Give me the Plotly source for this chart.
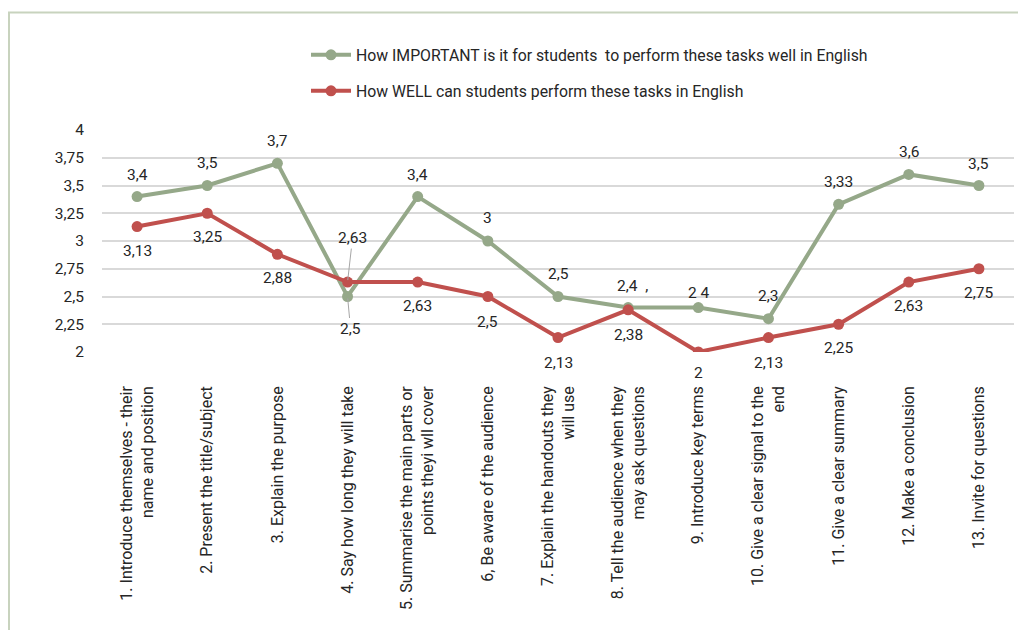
import plotly.graph_objects as go

categories = [
    "1. Introduce themselves - their<br>name and position",
    "2. Present the title/subject",
    "3. Explain the purpose",
    "4. Say how long they will take",
    "5. Summarise the main parts or<br>points theyi wll cover",
    "6, Be aware of the audience",
    "7. Explain the handouts they<br>will use",
    "8. Tell the audience when they<br>may ask questions",
    "9. Introduce key terms",
    "10. Give a clear signal to the<br>end",
    "11. Give a clear summary",
    "12. Make a conclusion",
    "13. Invite for questions",
]
important = [3.4, 3.5, 3.7, 2.5, 3.4, 3.0, 2.5, 2.4, 2.4, 2.3, 3.33, 3.6, 3.5]
well = [3.13, 3.25, 2.88, 2.63, 2.63, 2.5, 2.13, 2.38, 2.0, 2.13, 2.25, 2.63, 2.75]
important_labels = ["3,4", "3,5", "3,7", "2,5", "3,4", "3", "2,5", "2,4  ,", "2 4", "2,3", "3,33", "3,6", "3,5"]
well_labels = ["3,13", "3,25", "2,88", "2,63", "2,63", "2,5", "2,13", "2,38", "2", "2,13", "2,25", "2,63", "2,75"]
ytick_vals = [2, 2.25, 2.5, 2.75, 3, 3.25, 3.5, 3.75, 4]
ytick_text = ["2", "2,25", "2,5", "2,75", "3", "3,25", "3,5", "3,75", "4"]
name_important = "How IMPORTANT is it for students  to perform these tasks well in English"
name_well = "How WELL can students perform these tasks in English"

GREEN = "#95A889"
RED = "#C0504D"
FONT = "Roboto"
TXT = "#262626"

# page offset (body margin) and plot area in page pixels
OFF = 8
PL, PR, PT, PB = 102, 1014, 130, 352
W, H = 1026 - OFF, 630 - OFF


def px(x):
    return (x - PL) / (PR - PL)


def py(y):
    return (PB - y) / (PB - PT)


fig = go.Figure()
fig.add_trace(go.Scatter(
    x=categories, y=important, name=name_important, mode="lines+markers",
    line=dict(color=GREEN, width=4), marker=dict(color=GREEN, size=11),
    legend="legend",
))
fig.add_trace(go.Scatter(
    x=categories, y=well, name=name_well, mode="lines+markers",
    line=dict(color=RED, width=4), marker=dict(color=RED, size=11),
    legend="legend2",
))

# label offsets (px): (xshift, yshift, leader)
imp_off = [(0, 22, False), (0, 23, False), (0, 22, False), (3, -32, True), (0, 22, False),
           (0, 23, False), (0, 23, False), (4, 22, False), (1, 15, False), (0, 23, False),
           (0, 22, False), (0, 22, False), (0, 22, False)]
well_off = [(0, -24, False), (0, -24, False), (0, -24, False), (5, 44, True), (0, -24, False),
            (0, -25, False), (0, -25, False), (0, -25, False), (0, -21, False), (0, -25, False),
            (0, -24, False), (0, -24, False), (0, -24, False)]

for series, labels, offs in ((important, important_labels, imp_off), (well, well_labels, well_off)):
    for c, v, t, (dx, dy, leader) in zip(categories, series, labels, offs):
        if leader:
            fig.add_annotation(x=c, y=v, text=t, showarrow=True, arrowhead=0,
                               arrowwidth=1, arrowcolor="#A6A6A6", ax=dx, ay=-dy,
                               standoff=2, font=dict(family=FONT, size=15.5, color=TXT))
        else:
            fig.add_annotation(x=c, y=v, text=t, showarrow=False, xshift=dx, yshift=dy,
                               font=dict(family=FONT, size=15.5, color=TXT))

# frame lines (left and top)
fig.add_shape(type="line", xref="paper", yref="paper",
              x0=px(9), x1=px(9), y0=py(12), y1=py(640),
              line=dict(color="#C8D3BE", width=2))
fig.add_shape(type="line", xref="paper", yref="paper",
              x0=px(8), x1=px(1030), y0=py(12.5), y1=py(12.5),
              line=dict(color="#C8D3BE", width=2))

fig.update_layout(
    width=W, height=H,
    margin=dict(l=PL - OFF, r=W + OFF - PR, t=PT - OFF, b=H + OFF - PB, autoexpand=False),
    paper_bgcolor="white", plot_bgcolor="white",
    font=dict(family=FONT, size=15, color=TXT),
    showlegend=True,
    legend=dict(x=px(306), xanchor="left", y=py(55), yanchor="middle", itemwidth=40,
                bgcolor="rgba(0,0,0,0)", font=dict(family=FONT, size=15.8, color=TXT)),
    legend2=dict(x=px(306), xanchor="left", y=py(91), yanchor="middle", itemwidth=40,
                 bgcolor="rgba(0,0,0,0)", font=dict(family=FONT, size=15.8, color=TXT)),
    xaxis=dict(type="category", range=[-0.5, 12.5], autorange=False, automargin=False,
               tickangle=-90, showgrid=False, zeroline=False,
               showline=False, ticks="", ticklabelstandoff=30,
               tickfont=dict(family=FONT, size=16, color=TXT)),
    yaxis=dict(range=[2, 4], autorange=False, automargin=False,
               tickvals=ytick_vals, ticktext=ytick_text,
               showgrid=True, gridcolor="#D9D9D9", gridwidth=1.5, zeroline=False,
               showline=False, ticks="", ticklabelstandoff=17,
               tickfont=dict(family=FONT, size=15.5, color=TXT)),
)

fig.write_html("out.html")
